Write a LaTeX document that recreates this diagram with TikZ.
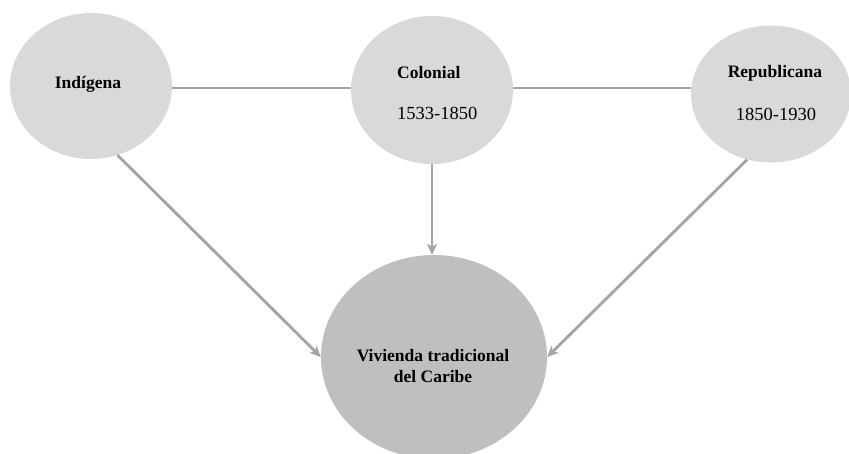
\documentclass[tikz,border=0pt]{standalone}
\usepackage{fontspec}
\setmainfont{Liberation Serif}
\usetikzlibrary{shapes.geometric,arrows.meta}
\definecolor{lightfill}{HTML}{D9D9D9}
\definecolor{darkfill}{HTML}{BFBFBF}
\definecolor{linegray}{HTML}{A5A5A5}
\begin{document}
\begin{tikzpicture}[x=1pt,y=-1pt,
  era/.style={ellipse, fill=lightfill, draw=none, inner sep=0pt},
  goal/.style={ellipse, fill=darkfill, draw=none, inner sep=0pt},
  boldlab/.style={inner sep=0pt, font=\fontsize{17.5}{21}\selectfont\bfseries, align=center},
  numlab/.style={inner sep=0pt, font=\fontsize{18.5}{22}\selectfont},
  conn/.style={draw=linegray, line width=2.9pt},
  arr/.style={conn, -{Stealth[length=11pt,width=10pt,inset=3pt]}}
]
\useasboundingbox (0,0) rectangle (849,453);
\clip (0,0) rectangle (849,453);
\node[era, minimum width=162pt, minimum height=146pt] (ind) at (91,86) {};
\node[era, minimum width=162pt, minimum height=148pt] (col) at (432,90) {};
\node[era, minimum width=160pt, minimum height=137pt] (rep) at (771,94) {};
\node[goal, minimum width=226pt, minimum height=204pt] (viv) at (434,357) {};

\node[boldlab] (indt) at (88,84) {Indígena};
\node[boldlab, anchor=west] (colt) at (397,73) {Colonial};
\node[numlab, anchor=west] (coln) at (397,113) {1533-1850};
\node[boldlab] (rept) at (775,73) {Republicana};
\node[numlab] (repn) at (776,114) {1850-1930};
\node[boldlab] (vivt) at (433,366) {Vivienda tradicional\\del Caribe};

\draw[conn] ([yshift=-2pt]ind.east) -- ([yshift=2pt]col.west);
\draw[conn] ([yshift=2pt]col.east) -- ([yshift=6pt]rep.west);
\draw[arr] (ind.-69) -- (viv.west);
\draw[arr] (col.south) -- (col.south |- viv.north);
\draw[arr] (rep.-110) -- (viv.east);
\end{tikzpicture}
\end{document}
